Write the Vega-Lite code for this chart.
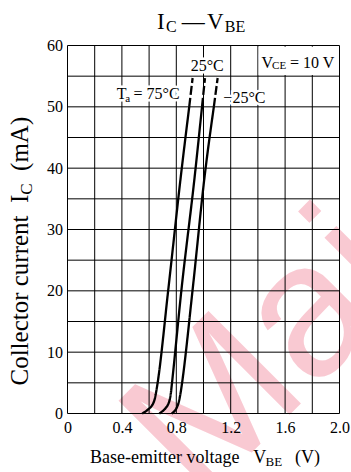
{
  "$schema": "https://vega.github.io/schema/vega-lite/v6.json",
  "width": 272,
  "height": 368,
  "autosize": {"type": "none"},
  "padding": {"left": 67.5, "top": 45.5, "right": 11.5, "bottom": 58.5},
  "background": "white",
  "config": {"view": {"stroke": null}, "font": "Liberation Serif"},
  "datasets": {
    "gx": [{"v": 0}, {"v": 0.2}, {"v": 0.4}, {"v": 0.6}, {"v": 0.8}, {"v": 1.0}, {"v": 1.2}, {"v": 1.4}, {"v": 1.6}, {"v": 1.8}, {"v": 2.0}],
    "gy": [{"ic": 0}, {"ic": 5}, {"ic": 10}, {"ic": 15}, {"ic": 20}, {"ic": 25}, {"ic": 30}, {"ic": 35}, {"ic": 40}, {"ic": 45}, {"ic": 50}, {"ic": 55}, {"ic": 60}],
    "curves": [
      {"s": "75", "seg": "a", "v": 0.549, "ic": 0},
      {"s": "75", "seg": "a", "v": 0.575, "ic": 0.35},
      {"s": "75", "seg": "a", "v": 0.598, "ic": 0.75},
      {"s": "75", "seg": "a", "v": 0.618, "ic": 1.2},
      {"s": "75", "seg": "a", "v": 0.632, "ic": 1.75},
      {"s": "75", "seg": "a", "v": 0.643, "ic": 2.5},
      {"s": "75", "seg": "a", "v": 0.651, "ic": 3.4},
      {"s": "75", "seg": "a", "v": 0.66, "ic": 4.6},
      {"s": "75", "seg": "a", "v": 0.741, "ic": 20.2},
      {"s": "75", "seg": "a", "v": 0.835, "ic": 39},
      {"s": "75", "seg": "a", "v": 0.895, "ic": 50},
      {"s": "75", "seg": "b", "v": 0.895, "ic": 50},
      {"s": "75", "seg": "b", "v": 0.92, "ic": 54.7},
      {"s": "25", "seg": "a", "v": 0.675, "ic": 0},
      {"s": "25", "seg": "a", "v": 0.7, "ic": 0.4},
      {"s": "25", "seg": "a", "v": 0.722, "ic": 0.9},
      {"s": "25", "seg": "a", "v": 0.74, "ic": 1.5},
      {"s": "25", "seg": "a", "v": 0.752, "ic": 2.3},
      {"s": "25", "seg": "a", "v": 0.76, "ic": 3.3},
      {"s": "25", "seg": "a", "v": 0.766, "ic": 4.5},
      {"s": "25", "seg": "a", "v": 0.838, "ic": 20.2},
      {"s": "25", "seg": "a", "v": 0.937, "ic": 39},
      {"s": "25", "seg": "a", "v": 0.989, "ic": 50},
      {"s": "25", "seg": "b", "v": 0.989, "ic": 50},
      {"s": "25", "seg": "b", "v": 1.011, "ic": 54.7},
      {"s": "-25", "seg": "a", "v": 0.766, "ic": 0},
      {"s": "-25", "seg": "a", "v": 0.785, "ic": 0.35},
      {"s": "-25", "seg": "a", "v": 0.803, "ic": 0.93},
      {"s": "-25", "seg": "a", "v": 0.816, "ic": 1.7},
      {"s": "-25", "seg": "a", "v": 0.827, "ic": 2.8},
      {"s": "-25", "seg": "a", "v": 0.834, "ic": 3.7},
      {"s": "-25", "seg": "a", "v": 0.84, "ic": 4.6},
      {"s": "-25", "seg": "a", "v": 0.92, "ic": 20.2},
      {"s": "-25", "seg": "a", "v": 1.01, "ic": 39},
      {"s": "-25", "seg": "a", "v": 1.076, "ic": 50},
      {"s": "-25", "seg": "b", "v": 1.076, "ic": 50},
      {"s": "-25", "seg": "b", "v": 1.104, "ic": 54.7}
    ],
    "texts": [
      {"t": "I", "k": "tt", "v": 0.658, "ic": 62.61},
      {"t": "C", "k": "ts", "v": 0.724, "ic": 62.12},
      {"t": "—", "k": "tt", "v": 0.84, "ic": 62.61},
      {"t": "V", "k": "tt", "v": 1.026, "ic": 62.61},
      {"t": "BE", "k": "ts", "v": 1.156, "ic": 62.12},
      {"t": "25°C", "k": "lb", "v": 0.906, "ic": 55.81},
      {"t": "V", "k": "lb", "v": 1.426, "ic": 56.37},
      {"t": "= 10 V", "k": "lb", "v": 1.636, "ic": 56.37},
      {"t": "−25°C", "k": "lb", "v": 1.146, "ic": 50.66},
      {"t": "T", "k": "lb", "v": 0.362, "ic": 51.2},
      {"t": "= 75°C", "k": "lb", "v": 0.485, "ic": 51.2},
      {"t": "CE", "k": "ls", "v": 1.504, "ic": 56.17},
      {"t": "a", "k": "ls", "v": 0.425, "ic": 50.75},
      {"t": "Base-emitter voltage", "k": "xt", "v": 0.165, "ic": -8.04},
      {"t": "V", "k": "xt", "v": 1.366, "ic": -8.04},
      {"t": "(V)", "k": "xt", "v": 1.673, "ic": -8.04},
      {"t": "BE", "k": "xs", "v": 1.456, "ic": -8.64},
      {"t": "Collector current", "k": "yt", "v": -0.29, "ic": 4.565},
      {"t": "I", "k": "yt", "v": -0.29, "ic": 34.32},
      {"t": "C", "k": "ys", "v": -0.261, "ic": 35.67},
      {"t": "(mA)", "k": "yt", "v": -0.29, "ic": 39.55},
      {"t": "Maintenance", "k": "wm", "v": 0.974, "ic": -14.8}
    ]
  },
  "layer": [
    {
      "data": {"name": "texts"},
      "transform": [{"filter": "datum.k === 'wm'"}],
      "mark": {"type": "text", "align": "left", "baseline": "alphabetic", "angle": -45, "font": "Liberation Sans", "fontSize": 190, "color": "#f9c9d2"},
      "encoding": {
        "x": {
          "field": "v", "type": "quantitative",
          "scale": {"domain": [0, 2], "nice": false, "zero": false},
          "axis": {
            "values": [0, 0.4, 0.8, 1.2, 1.6, 2.0],
            "labelExpr": "datum.value === 0 ? '0' : format(datum.value, '.1f')",
            "title": null, "grid": false, "ticks": false, "domain": false, "zindex": 1,
            "labelFont": "Liberation Serif", "labelFontSize": 16, "labelColor": "#000",
            "labelPadding": 6, "labelFlush": false, "labelOverlap": false
          }
        },
        "y": {
          "field": "ic", "type": "quantitative",
          "scale": {"domain": [0, 60], "nice": false, "zero": false},
          "axis": {
            "values": [0, 10, 20, 30, 40, 50, 60],
            "title": null, "grid": false, "ticks": false, "domain": false, "zindex": 1,
            "labelFont": "Liberation Serif", "labelFontSize": 16, "labelColor": "#000",
            "labelPadding": 5, "labelFlush": false, "labelOverlap": false
          }
        },
        "text": {"field": "t"}
      }
    },
    {
      "data": {"name": "gx"},
      "mark": {"type": "rule", "color": "#000", "strokeWidth": 1},
      "encoding": {
        "x": {"field": "v", "type": "quantitative", "scale": {"domain": [0, 2], "nice": false, "zero": false}, "axis": {"title": null}}
      }
    },
    {
      "data": {"name": "gy"},
      "mark": {"type": "rule", "color": "#000", "strokeWidth": 1},
      "encoding": {
        "y": {"field": "ic", "type": "quantitative", "scale": {"domain": [0, 60], "nice": false, "zero": false}, "axis": {"title": null}}
      }
    },
    {
      "data": {"values": [{"v": 1.405, "v2": 1.995, "ic": 55.2, "ic2": 59.8}]},
      "mark": {"type": "rect", "color": "white"},
      "encoding": {
        "x": {"field": "v", "type": "quantitative", "scale": {"domain": [0, 2], "nice": false, "zero": false}, "axis": {"title": null}},
        "x2": {"field": "v2"},
        "y": {"field": "ic", "type": "quantitative", "scale": {"domain": [0, 60], "nice": false, "zero": false}, "axis": {"title": null}},
        "y2": {"field": "ic2"}
      }
    },
    {
      "data": {"name": "texts"},
      "transform": [{"filter": "datum.k === 'lb'"}],
      "mark": {"type": "text", "align": "left", "baseline": "alphabetic", "font": "Liberation Serif", "fontSize": 16, "color": "white", "stroke": "white", "strokeWidth": 5},
      "encoding": {
        "x": {"field": "v", "type": "quantitative", "scale": {"domain": [0, 2], "nice": false, "zero": false}, "axis": {"title": null}},
        "y": {"field": "ic", "type": "quantitative", "scale": {"domain": [0, 60], "nice": false, "zero": false}, "axis": {"title": null}},
        "text": {"field": "t"}
      }
    },
    {
      "data": {"name": "texts"},
      "transform": [{"filter": "datum.k === 'ls'"}],
      "mark": {"type": "text", "align": "left", "baseline": "alphabetic", "font": "Liberation Serif", "fontSize": 11, "color": "white", "stroke": "white", "strokeWidth": 4},
      "encoding": {
        "x": {"field": "v", "type": "quantitative", "scale": {"domain": [0, 2], "nice": false, "zero": false}, "axis": {"title": null}},
        "y": {"field": "ic", "type": "quantitative", "scale": {"domain": [0, 60], "nice": false, "zero": false}, "axis": {"title": null}},
        "text": {"field": "t"}
      }
    },
    {
      "data": {"name": "curves"},
      "mark": {"type": "line", "color": "#000", "strokeWidth": 2.3, "interpolate": "monotone"},
      "encoding": {
        "x": {"field": "v", "type": "quantitative", "scale": {"domain": [0, 2], "nice": false, "zero": false}, "axis": {"title": null}},
        "y": {"field": "ic", "type": "quantitative", "scale": {"domain": [0, 60], "nice": false, "zero": false}, "axis": {"title": null}},
        "detail": {"field": "s", "type": "nominal"},
        "strokeDash": {"field": "seg", "type": "nominal", "scale": {"domain": ["a", "b"], "range": [[1, 0], [9, 3]]}, "legend": null},
        "order": {"field": "ic", "type": "quantitative"}
      }
    },
    {
      "data": {"name": "texts"},
      "transform": [{"filter": "datum.k === 'lb'"}],
      "mark": {"type": "text", "align": "left", "baseline": "alphabetic", "font": "Liberation Serif", "fontSize": 16, "color": "#000"},
      "encoding": {
        "x": {"field": "v", "type": "quantitative", "scale": {"domain": [0, 2], "nice": false, "zero": false}, "axis": {"title": null}},
        "y": {"field": "ic", "type": "quantitative", "scale": {"domain": [0, 60], "nice": false, "zero": false}, "axis": {"title": null}},
        "text": {"field": "t"}
      }
    },
    {
      "data": {"name": "texts"},
      "transform": [{"filter": "datum.k === 'ls'"}],
      "mark": {"type": "text", "align": "left", "baseline": "alphabetic", "font": "Liberation Serif", "fontSize": 11, "color": "#000"},
      "encoding": {
        "x": {"field": "v", "type": "quantitative", "scale": {"domain": [0, 2], "nice": false, "zero": false}, "axis": {"title": null}},
        "y": {"field": "ic", "type": "quantitative", "scale": {"domain": [0, 60], "nice": false, "zero": false}, "axis": {"title": null}},
        "text": {"field": "t"}
      }
    },
    {
      "data": {"name": "texts"},
      "transform": [{"filter": "datum.k === 'xt'"}],
      "mark": {"type": "text", "align": "left", "baseline": "alphabetic", "font": "Liberation Serif", "fontSize": 18, "color": "#000"},
      "encoding": {
        "x": {"field": "v", "type": "quantitative", "scale": {"domain": [0, 2], "nice": false, "zero": false}, "axis": {"title": null}},
        "y": {"field": "ic", "type": "quantitative", "scale": {"domain": [0, 60], "nice": false, "zero": false}, "axis": {"title": null}},
        "text": {"field": "t"}
      }
    },
    {
      "data": {"name": "texts"},
      "transform": [{"filter": "datum.k === 'xs'"}],
      "mark": {"type": "text", "align": "left", "baseline": "alphabetic", "font": "Liberation Serif", "fontSize": 13, "color": "#000"},
      "encoding": {
        "x": {"field": "v", "type": "quantitative", "scale": {"domain": [0, 2], "nice": false, "zero": false}, "axis": {"title": null}},
        "y": {"field": "ic", "type": "quantitative", "scale": {"domain": [0, 60], "nice": false, "zero": false}, "axis": {"title": null}},
        "text": {"field": "t"}
      }
    },
    {
      "data": {"name": "texts"},
      "transform": [{"filter": "datum.k === 'tt'"}],
      "mark": {"type": "text", "align": "left", "baseline": "alphabetic", "font": "Liberation Serif", "fontSize": 23, "color": "#000"},
      "encoding": {
        "x": {"field": "v", "type": "quantitative", "scale": {"domain": [0, 2], "nice": false, "zero": false}, "axis": {"title": null}},
        "y": {"field": "ic", "type": "quantitative", "scale": {"domain": [0, 60], "nice": false, "zero": false}, "axis": {"title": null}},
        "text": {"field": "t"}
      }
    },
    {
      "data": {"name": "texts"},
      "transform": [{"filter": "datum.k === 'ts'"}],
      "mark": {"type": "text", "align": "left", "baseline": "alphabetic", "font": "Liberation Serif", "fontSize": 16, "color": "#000"},
      "encoding": {
        "x": {"field": "v", "type": "quantitative", "scale": {"domain": [0, 2], "nice": false, "zero": false}, "axis": {"title": null}},
        "y": {"field": "ic", "type": "quantitative", "scale": {"domain": [0, 60], "nice": false, "zero": false}, "axis": {"title": null}},
        "text": {"field": "t"}
      }
    },
    {
      "data": {"name": "texts"},
      "transform": [{"filter": "datum.k === 'yt'"}],
      "mark": {"type": "text", "align": "left", "baseline": "alphabetic", "angle": 270, "font": "Liberation Serif", "fontSize": 25, "color": "#000"},
      "encoding": {
        "x": {"field": "v", "type": "quantitative", "scale": {"domain": [0, 2], "nice": false, "zero": false}, "axis": {"title": null}},
        "y": {"field": "ic", "type": "quantitative", "scale": {"domain": [0, 60], "nice": false, "zero": false}, "axis": {"title": null}},
        "text": {"field": "t"}
      }
    },
    {
      "data": {"name": "texts"},
      "transform": [{"filter": "datum.k === 'ys'"}],
      "mark": {"type": "text", "align": "left", "baseline": "alphabetic", "angle": 270, "font": "Liberation Serif", "fontSize": 17, "color": "#000"},
      "encoding": {
        "x": {"field": "v", "type": "quantitative", "scale": {"domain": [0, 2], "nice": false, "zero": false}, "axis": {"title": null}},
        "y": {"field": "ic", "type": "quantitative", "scale": {"domain": [0, 60], "nice": false, "zero": false}, "axis": {"title": null}},
        "text": {"field": "t"}
      }
    }
  ]
}
